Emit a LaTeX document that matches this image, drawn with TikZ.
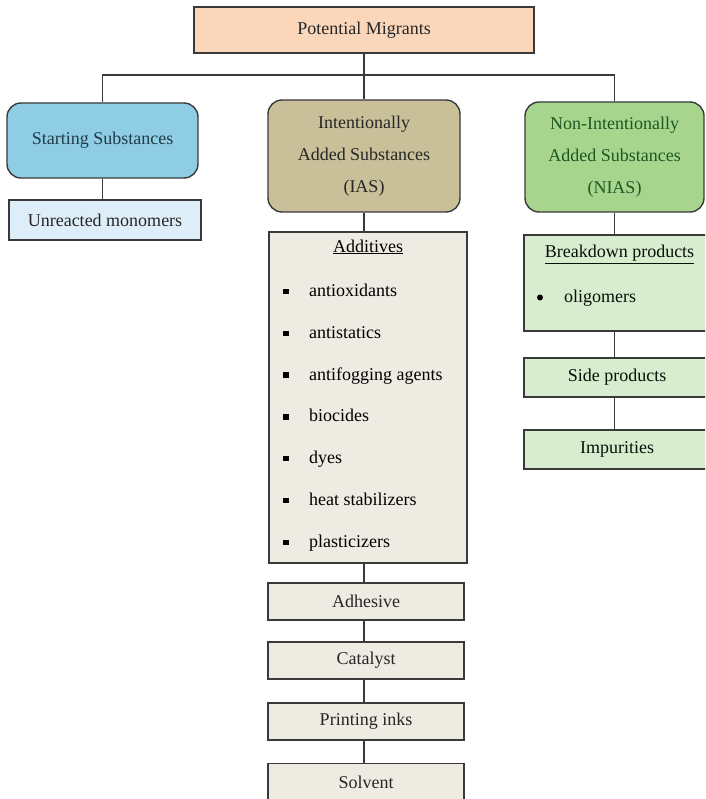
\documentclass[tikz,border=0pt]{standalone}
\usepackage{fontspec}
\setmainfont{Liberation Serif}
\usepackage{tikz}
\definecolor{migrant}{RGB}{250, 214, 186}
\definecolor{startfill}{RGB}{142, 205, 228}
\definecolor{startlight}{RGB}{222, 238, 248}
\definecolor{startink}{RGB}{35, 58, 72}
\definecolor{iasfill}{RGB}{201, 192, 154}
\definecolor{iaslight}{RGB}{238, 235, 227}
\definecolor{niasfill}{RGB}{168, 213, 142}
\definecolor{niaslight}{RGB}{216, 236, 207}
\definecolor{niasink}{RGB}{28, 88, 34}
\definecolor{edge}{RGB}{58, 58, 58}

\begin{document}
\begin{tikzpicture}[x=1pt, y=-1pt,
	box/.style = {draw=edge, line width=1.4pt, inner sep=0pt, align=center,
		font=\fontsize{18}{32}\selectfont, text=black!85},
	roundbox/.style = {box, rounded corners=14pt},
	listbox/.style = {box, minimum width=196pt, minimum height=37pt, fill=iaslight},
	niasbox/.style = {box, minimum width=186pt, minimum height=39pt, fill=niaslight, text=black!80!niasink},
	item/.style = {anchor=base west, inner sep=0pt, font=\fontsize{18}{22}\selectfont},
	sqbullet/.style = {fill=black, inner sep=0pt, minimum size=5.5pt},
	link/.style = {draw=edge, line width=1.2pt}]
	\useasboundingbox (0,0) rectangle (705,799);
	\fill[white] (0,0) rectangle (705,799);
	\clip (0,0) rectangle (705,799);

	\node[box, fill=migrant, minimum width=340pt, minimum height=46pt] (top) at (364,30) {Potential Migrants};
	\node[roundbox, fill=startfill, text=startink, minimum width=191pt, minimum height=75pt] (start) at (102.5,140.5) {Starting Substances};
	\node[roundbox, fill=iasfill, minimum width=192pt, minimum height=112pt] (ias) at (364,156) {Intentionally\\Added Substances\\(IAS)};
	\node[roundbox, fill=niasfill, text=niasink, minimum width=179pt, minimum height=110pt] (nias) at (614.5,157) {Non-Intentionally\\Added Substances\\(NIAS)};

	\node[box, fill=startlight, minimum width=192pt, minimum height=40pt] (monomers) at (105,220) {Unreacted monomers};

	% additives list
	\node[box, fill=iaslight, minimum width=198pt, minimum height=331pt] (add) at (368,397.5) {};
	\node[item, anchor=base] (addtitle) at (368,252) {\underline{Additives}};
	\foreach \name [count=\i from 0] in {antioxidants, antistatics, antifogging agents, biocides, dyes, heat stabilizers, plasticizers} {
		\node[sqbullet] (sq\i) at (286, 291.5+41.8*\i) {};
		\node[item] (additem\i) at (309, 296.5+41.8*\i) {\name};
	}
	\node[listbox] (adhesive) at (366,601.5) {Adhesive};
	\node[listbox] (catalyst) at (366,660.5) {Catalyst};
	\node[listbox] (inks) at (366,721.5) {Printing inks};
	\node[listbox] (solvent) at (366,782) {Solvent};

	% non-intentional side
	\node[niasbox, minimum height=96pt] (breakdown) at (617,283) {};
	\node[item, anchor=base, text=black!80!niasink] (bdtitle) at (619.5,258) {\underline{Breakdown products}};
	\node[circle, fill=black, inner sep=0pt, minimum size=6pt] (dot) at (540,297.5) {};
	\node[item, text=black!80!niasink] (oligomers) at (564,302) {oligomers};
	\node[niasbox] (side) at (617,377.5) {Side products};
	\node[niasbox] (impurities) at (617,449.5) {Impurities};

	\coordinate (bus) at (364,75);
	\draw[link] (top.south) -- (ias.north);
	\draw[link] (start.north) |- (bus) -| (nias.north);
	\draw[link] (start.south) -- (start.south |- monomers.north);
	\draw[link] (ias.south) -- (ias.south |- add.north);
	\foreach \a/\b in {add/adhesive, adhesive/catalyst, catalyst/inks, inks/solvent}
		\draw[link] (ias.south |- \a.south) -- (ias.south |- \b.north);
	\draw[link] (nias.south) -- (nias.south |- breakdown.north);
	\foreach \a/\b in {breakdown/side, side/impurities}
		\draw[link] (nias.south |- \a.south) -- (nias.south |- \b.north);
\end{tikzpicture}
\end{document}
